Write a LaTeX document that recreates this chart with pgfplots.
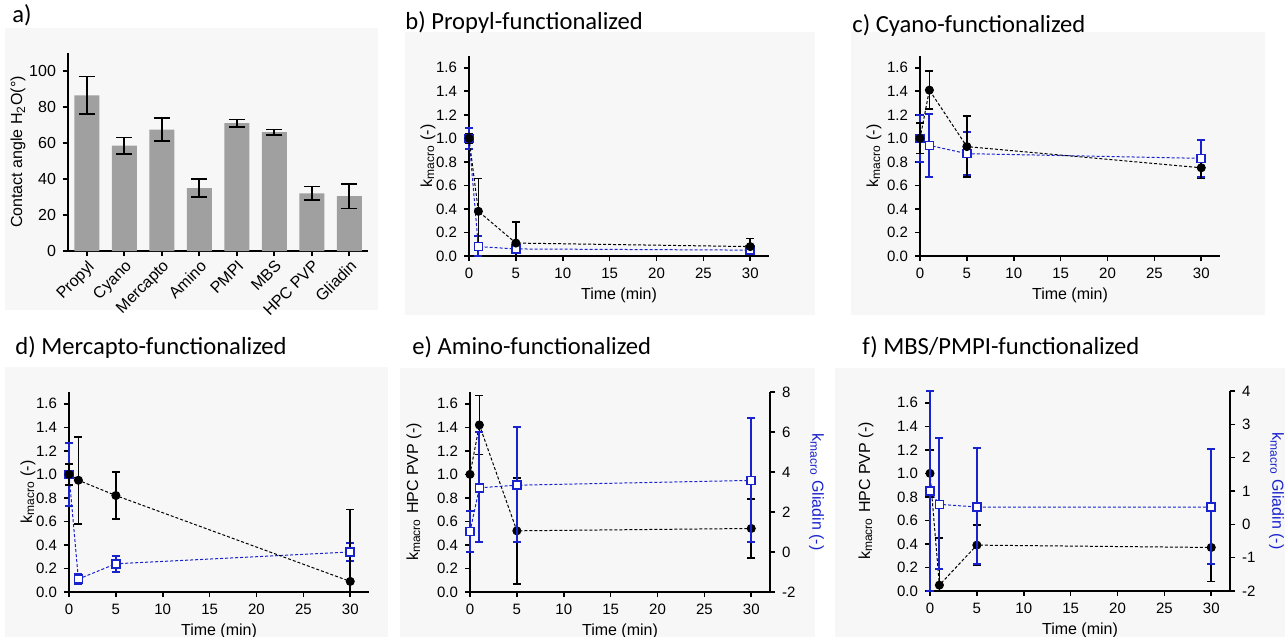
\documentclass[border=0pt]{standalone}
\usepackage{fontspec}
\setmainfont{Liberation Sans}
\newfontfamily\titlefont{Carlito}
\usepackage{pgfplots}
\pgfplotsset{compat=1.18}

\definecolor{blu}{RGB}{25,35,205}
\definecolor{barg}{RGB}{160,160,160}
\definecolor{panel}{RGB}{247,247,247}

\pgfplotsset{
  base/.style={
    scale only axis, axis lines*=left,
    axis line style={line width=0.8pt},
    tick align=outside, major tick length=2.5pt,
    tick style={line width=0.8pt, black},
    tick label style={font=\fontsize{7.5}{8}\selectfont},
    label style={font=\fontsize{8}{9.6}\selectfont},
    /pgf/number format/assume math mode=true,
    clip=false,
  },
  kin/.style={
    base, width=150pt, height=100pt,
    xmin=0, xmax=32, ymin=0, ymax=1.7,
    xtick={0,5,...,30}, ytick={0,0.2,...,1.6},
    y tick label style={/pgf/number format/fixed,
      /pgf/number format/fixed zerofill, /pgf/number format/precision=1},
    xlabel={Time (min)}, ylabel={k\textsubscript{macro} (-)},
    xlabel shift=-2.5pt,
  },
  rax/.style={
    base, axis y line*=right, axis x line=none,
    width=150pt, height=100pt, xmin=0, xmax=32,
    ylabel style={rotate=180, text=blu},
  },
  blk/.style={
    black, line width=0.5pt, dash pattern=on 1.5pt off 1pt,
    mark=*, mark size=2pt, mark options={solid, fill=black},
    error bars/.cd, y dir=both, y explicit,
    error bar style={line width=0.8pt, solid, black},
    error mark options={rotate=90, mark size=2pt, line width=0.8pt, black},
  },
  bsq/.style={
    blu, line width=0.5pt, dash pattern=on 1.5pt off 1pt,
    mark=square*, mark size=2pt,
    mark options={solid, draw=blu, fill=white, line width=0.8pt},
    error bars/.cd, y dir=both, y explicit,
    error bar style={line width=1pt, solid, blu},
    error mark options={rotate=90, mark size=2pt, line width=1pt, blu},
  },
}

\begin{document}
\begin{tikzpicture}
% panel backgrounds
\fill[panel] (2.5pt,-14pt) rectangle (189pt,-155pt);
\fill[panel] (202.5pt,-16pt) rectangle (407.5pt,-157.5pt);
\fill[panel] (425.5pt,-16pt) rectangle (632.5pt,-157.5pt);
\fill[panel] (2.5pt,-183.5pt) rectangle (194pt,-318.5pt);
\fill[panel] (200pt,-184pt) rectangle (407.5pt,-318.5pt);
\fill[panel] (417.5pt,-184pt) rectangle (642.5pt,-318.5pt);

% titles
\begin{scope}[every node/.style={anchor=west, inner sep=0pt, font=\titlefont\fontsize{12.3}{14}\selectfont}]
\node at (6pt,-7.5pt) {a)};
\node at (202.5pt,-11pt) {b) Propyl-functionalized};
\node at (426pt,-12.5pt) {c) Cyano-functionalized};
\node at (7.5pt,-173.5pt) {d) Mercapto-functionalized};
\node at (206pt,-173.5pt) {e) Amino-functionalized};
\node at (431pt,-173.5pt) {f) MBS/PMPI-functionalized};
\end{scope}

% a) contact angles
\begin{axis}[base, width=150pt, height=99pt,
  at={(34pt,-125.5pt)}, anchor=south west,
  xmin=0, xmax=8, ymin=0, ymax=110,
  ytick={0,20,...,100}, xtick=data,
  xticklabels={Propyl,Cyano,Mercapto,Amino,PMPI,MBS,HPC PVP,Gliadin},
  tick label style={font=\fontsize{8}{9}\selectfont},
  xticklabel style={rotate=45, anchor=north east, inner sep=1pt},
  ylabel={Contact angle H\textsubscript{2}O(°)}, ylabel shift=-5pt]
\addplot[ybar, bar width=12.5pt, fill=barg, draw=none,
  error bars/.cd, y dir=both, y explicit,
  error bar style={line width=0.8pt, black},
  error mark options={rotate=90, mark size=4pt, line width=0.8pt, black}]
coordinates {
  (0.5,86.5) +- (0,10.5)
  (1.5,58.5) +- (0,4.5)
  (2.5,67.5) +- (0,6.5)
  (3.5,35) +- (0,5)
  (4.5,71) +- (0,2)
  (5.5,66) +- (0,1.5)
  (6.5,32) +- (0,3.8)
  (7.5,30.5) +- (0,6.8)
};
\end{axis}

% b) propyl
\begin{axis}[kin, at={(234.5pt,-128pt)}, anchor=south west, ylabel shift=-6.5pt]
\addplot[bsq] coordinates {
  (0,1.0) +- (0,0.09)
  (1,0.08) += (0,0.09) -= (0,0.08)
  (5,0.06) +- (0,0.03)
  (30,0.05) +- (0,0.03)
};
\addplot[blk] coordinates {
  (0,1.0) +- (0,0.04)
  (1,0.38) +- (0,0.28)
  (5,0.11) += (0,0.18) -= (0,0.11)
  (30,0.08) +- (0,0.07)
};
\end{axis}

% c) cyano
\begin{axis}[kin, at={(460pt,-128pt)}, anchor=south west, ylabel shift=-4pt]
\addplot[bsq] coordinates {
  (0,1.0) +- (0,0.2)
  (1,0.94) +- (0,0.27)
  (5,0.87) +- (0,0.18)
  (30,0.83) +- (0,0.16)
};
\addplot[blk] coordinates {
  (0,1.0) +- (0,0.13)
  (1,1.41) +- (0,0.16)
  (5,0.93) +- (0,0.26)
  (30,0.75) +- (0,0.09)
};
\end{axis}

% d) mercapto
\begin{axis}[kin, at={(34.5pt,-296pt)}, anchor=south west, ylabel shift=-6.5pt]
\addplot[bsq] coordinates {
  (0,1.0) +- (0,0.27)
  (1,0.11) +- (0,0.04)
  (5,0.24) +- (0,0.07)
  (30,0.34) +- (0,0.08)
};
\addplot[blk] coordinates {
  (0,1.0) +- (0,0.09)
  (1,0.95) +- (0,0.37)
  (5,0.82) +- (0,0.2)
  (30,0.09) += (0,0.61) -= (0,0.09)
};
\end{axis}

% e) amino
\begin{axis}[kin, at={(235pt,-296pt)}, anchor=south west,
  ylabel={k\textsubscript{macro} HPC PVP (-)}, ylabel shift=1pt]
\addplot[blk] coordinates {
  (0,1.0) +- (0,0)
  (1,1.42) +- (0,0.25)
  (5,0.52) +- (0,0.45)
  (30,0.54) +- (0,0.25)
};
\end{axis}
\begin{axis}[rax, at={(235pt,-296pt)}, anchor=south west,
  ymin=-2, ymax=8, ytick={-2,0,...,8},
  ylabel={k\textsubscript{macro} Gliadin (-)}]
\addplot[bsq] coordinates {
  (0,1.02) +- (0,1.02)
  (1,3.21) += (0,2.79) -= (0,2.72)
  (5,3.34) += (0,2.92) -= (0,2.85)
  (30,3.58) += (0,3.13) -= (0,3.09)
};
\end{axis}

% f) MBS/PMPI
\begin{axis}[kin, at={(465pt,-295.5pt)}, anchor=south west,
  ylabel={k\textsubscript{macro} HPC PVP (-)}, ylabel shift=5pt]
\addplot[blk] coordinates {
  (0,1.0) +- (0,0.2)
  (1,0.05) += (0,0.4) -= (0,0.05)
  (5,0.39) +- (0,0.17)
  (30,0.37) += (0,0.31) -= (0,0.29)
};
\end{axis}
\begin{axis}[rax, at={(465pt,-295.5pt)}, anchor=south west,
  ymin=-2, ymax=4, ytick={-2,-1,...,4},
  ylabel={k\textsubscript{macro} Gliadin (-)}]
\addplot[bsq] coordinates {
  (0,1.0) +- (0,3)
  (1,0.6) += (0,2.0) -= (0,1.95)
  (5,0.52) += (0,1.76) -= (0,1.72)
  (30,0.52) += (0,1.73) -= (0,1.70)
};
\end{axis}

\pgfresetboundingbox
\useasboundingbox (0pt,0pt) rectangle (642.5pt,-318.5pt);
\end{tikzpicture}
\end{document}
